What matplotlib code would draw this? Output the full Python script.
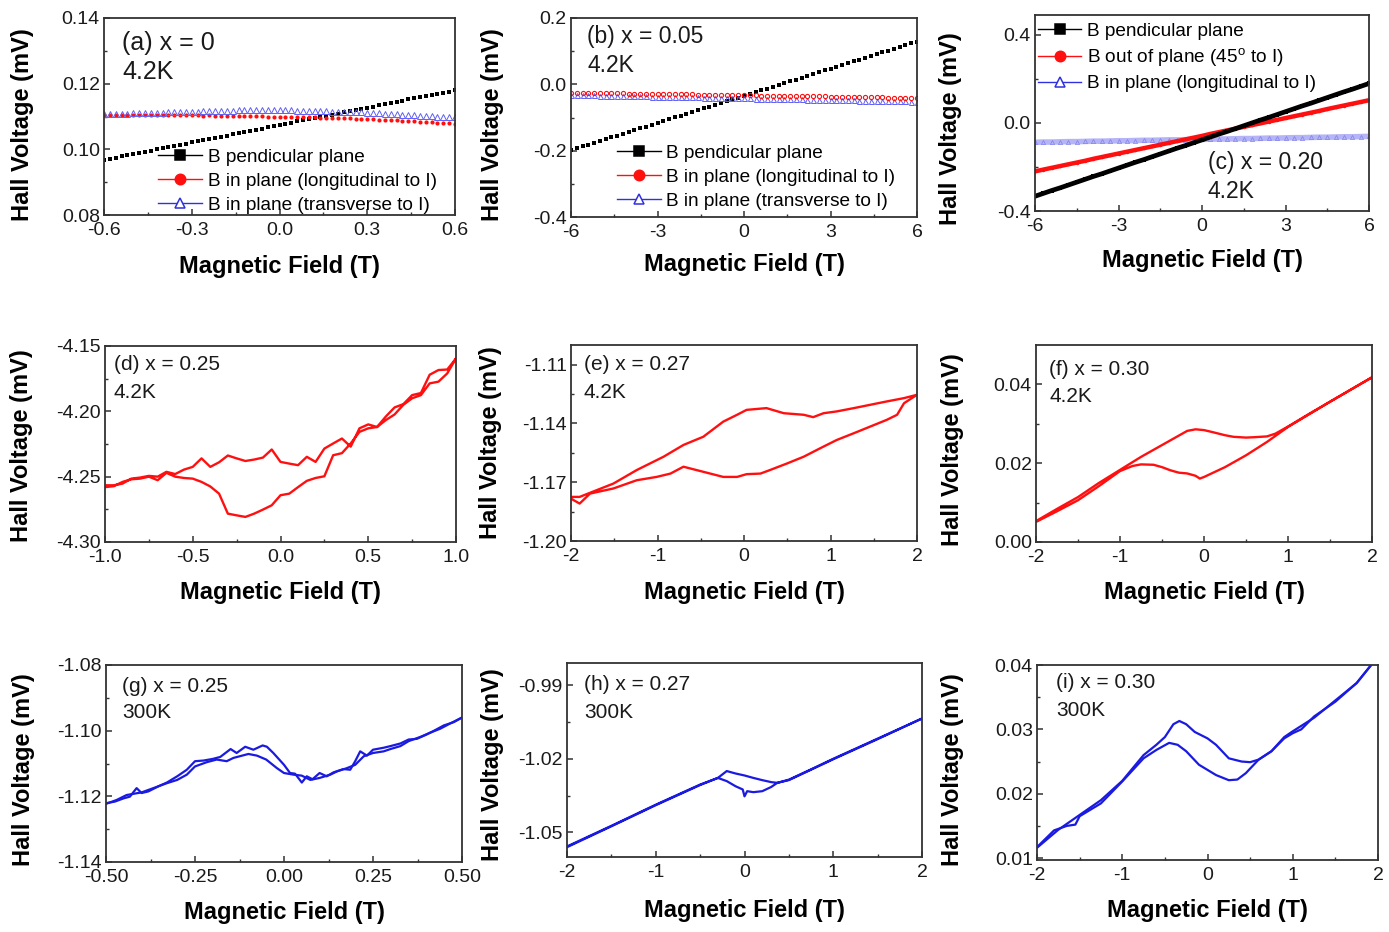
import numpy as np
import matplotlib
matplotlib.use("Agg")
import matplotlib.pyplot as plt
from matplotlib.lines import Line2D
from matplotlib.ticker import FixedLocator, FormatStrFormatter

plt.rcParams['font.family'] = ['Liberation Sans', 'DejaVu Sans']
plt.rcParams['mathtext.fontset'] = 'custom'
plt.rcParams['mathtext.rm'] = 'Liberation Sans'
plt.rcParams['axes.unicode_minus'] = False

# ------------------------------------------------------------------ data
# (a) x = 0, 4.2 K
field_a = np.linspace(-0.6, 0.6, 61)
a_perp = [0.0968, 0.0972, 0.0975, 0.0979, 0.0982, 0.0986, 0.0989, 0.0993, 0.0996, 0.1000,
          0.1003, 0.1007, 0.1010, 0.1014, 0.1017, 0.1021, 0.1024, 0.1028, 0.1032, 0.1035,
          0.1039, 0.1042, 0.1046, 0.1049, 0.1053, 0.1056, 0.1060, 0.1063, 0.1067, 0.1070,
          0.1074, 0.1077, 0.1081, 0.1085, 0.1088, 0.1092, 0.1095, 0.1099, 0.1102, 0.1106,
          0.1109, 0.1113, 0.1116, 0.1120, 0.1123, 0.1127, 0.1130, 0.1134, 0.1137, 0.1141,
          0.1145, 0.1148, 0.1152, 0.1155, 0.1159, 0.1162, 0.1166, 0.1169, 0.1173, 0.1176,
          0.1180]
a_long = [0.1105, 0.1105, 0.1106, 0.1105, 0.1105, 0.1106, 0.1105, 0.1105, 0.1105, 0.1104,
          0.1105, 0.1105, 0.1104, 0.1104, 0.1104, 0.1104, 0.1104, 0.1103, 0.1104, 0.1103,
          0.1103, 0.1103, 0.1102, 0.1102, 0.1102, 0.1101, 0.1101, 0.1101, 0.1100, 0.1100,
          0.1100, 0.1099, 0.1099, 0.1098, 0.1098, 0.1097, 0.1097, 0.1096, 0.1096, 0.1095,
          0.1095, 0.1094, 0.1094, 0.1093, 0.1093, 0.1092, 0.1091, 0.1090, 0.1090, 0.1089,
          0.1088, 0.1087, 0.1086, 0.1085, 0.1084, 0.1083, 0.1082, 0.1081, 0.1080, 0.1079,
          0.1078]
a_trans = [0.1107, 0.1108, 0.1108, 0.1109, 0.1109, 0.1110, 0.1110, 0.1111, 0.1111, 0.1112,
           0.1112, 0.1113, 0.1113, 0.1114, 0.1114, 0.1115, 0.1115, 0.1116, 0.1116, 0.1117,
           0.1117, 0.1118, 0.1118, 0.1119, 0.1119, 0.1119, 0.1120, 0.1120, 0.1120, 0.1120,
           0.1119, 0.1119, 0.1119, 0.1118, 0.1118, 0.1117, 0.1117, 0.1116, 0.1116, 0.1115,
           0.1115, 0.1114, 0.1114, 0.1113, 0.1113, 0.1112, 0.1111, 0.1110, 0.1109, 0.1108,
           0.1107, 0.1106, 0.1105, 0.1104, 0.1103, 0.1102, 0.1101, 0.1100, 0.1099, 0.1098,
           0.1098]

# (b) x = 0.05, 4.2 K
field_b = np.linspace(-6, 6, 61)
b_perp = [-0.1980, -0.1926, -0.1871, -0.1817, -0.1762, -0.1708, -0.1653, -0.1599, -0.1544, -0.1490,
          -0.1435, -0.1381, -0.1326, -0.1272, -0.1217, -0.1163, -0.1108, -0.1054, -0.0999, -0.0945,
          -0.0890, -0.0836, -0.0781, -0.0727, -0.0672, -0.0618, -0.0563, -0.0509, -0.0454, -0.0400,
          -0.0345, -0.0291, -0.0236, -0.0182, -0.0127, -0.0073, -0.0018, 0.0036, 0.0091, 0.0145,
          0.0200, 0.0254, 0.0309, 0.0363, 0.0418, 0.0472, 0.0527, 0.0581, 0.0636, 0.0690,
          0.0745, 0.0799, 0.0854, 0.0908, 0.0963, 0.1017, 0.1072, 0.1126, 0.1181, 0.1235,
          0.1290]
b_long = [-0.025, -0.025, -0.026, -0.026, -0.026, -0.026, -0.027, -0.027, -0.027, -0.027,
          -0.028, -0.028, -0.028, -0.028, -0.029, -0.029, -0.029, -0.029, -0.030, -0.030,
          -0.030, -0.030, -0.031, -0.031, -0.031, -0.031, -0.032, -0.032, -0.032, -0.032,
          -0.033, -0.033, -0.033, -0.034, -0.034, -0.034, -0.034, -0.035, -0.035, -0.035,
          -0.035, -0.036, -0.036, -0.036, -0.036, -0.037, -0.037, -0.037, -0.038, -0.038,
          -0.038, -0.038, -0.039, -0.039, -0.039, -0.040, -0.040, -0.040, -0.041, -0.041,
          -0.042]
b_trans = [-0.032, -0.032, -0.033, -0.033, -0.033, -0.034, -0.034, -0.034, -0.035, -0.035,
           -0.035, -0.036, -0.036, -0.036, -0.037, -0.037, -0.037, -0.038, -0.038, -0.038,
           -0.039, -0.039, -0.039, -0.040, -0.040, -0.040, -0.041, -0.041, -0.041, -0.042,
           -0.042, -0.042, -0.043, -0.043, -0.043, -0.044, -0.044, -0.044, -0.045, -0.045,
           -0.045, -0.046, -0.046, -0.046, -0.047, -0.047, -0.047, -0.048, -0.048, -0.048,
           -0.049, -0.049, -0.049, -0.050, -0.050, -0.050, -0.051, -0.051, -0.051, -0.052,
           -0.052]

# (c) x = 0.20, 4.2 K
field_c = np.linspace(-6, 6, 41)
c_perp = [-0.333, -0.320, -0.307, -0.295, -0.282, -0.269, -0.256, -0.243, -0.231, -0.218,
          -0.205, -0.192, -0.179, -0.167, -0.154, -0.141, -0.128, -0.115, -0.103, -0.090,
          -0.077, -0.064, -0.051, -0.039, -0.026, -0.013, 0.000, 0.013, 0.025, 0.038,
          0.051, 0.064, 0.077, 0.089, 0.102, 0.115, 0.128, 0.141, 0.153, 0.166,
          0.179]
c_45deg = [-0.220, -0.212, -0.204, -0.196, -0.188, -0.180, -0.172, -0.163, -0.155, -0.147,
           -0.139, -0.131, -0.123, -0.115, -0.107, -0.099, -0.091, -0.083, -0.075, -0.067,
           -0.059, -0.050, -0.042, -0.034, -0.026, -0.018, -0.010, -0.002, 0.006, 0.014,
           0.022, 0.030, 0.038, 0.046, 0.054, 0.063, 0.071, 0.079, 0.087, 0.095,
           0.103]
c_long = [-0.088, -0.087, -0.087, -0.086, -0.085, -0.085, -0.084, -0.083, -0.083, -0.082,
          -0.081, -0.081, -0.080, -0.079, -0.079, -0.078, -0.077, -0.077, -0.076, -0.075,
          -0.075, -0.074, -0.073, -0.073, -0.072, -0.071, -0.071, -0.070, -0.069, -0.069,
          -0.068, -0.067, -0.067, -0.066, -0.065, -0.065, -0.064, -0.063, -0.063, -0.062,
          -0.061]

# (d) x = 0.25, 4.2 K : up sweep then down sweep
d_field_up = np.round(np.arange(-1.0, 1.0001, 0.05), 2)
d_volt_up = [-4.2580, -4.2573, -4.2540, -4.2520, -4.2515, -4.2500, -4.2527, -4.2471, -4.2500, -4.2510,
             -4.2515, -4.2540, -4.2575, -4.2630, -4.2783, -4.2796, -4.2808, -4.2783, -4.2752, -4.2719,
             -4.2642, -4.2630, -4.2580, -4.2532, -4.2510, -4.2497, -4.2336, -4.2320, -4.2246, -4.2157,
             -4.2130, -4.2120, -4.2067, -4.2024, -4.1950, -4.1900, -4.1876, -4.1786, -4.1773, -4.1710,
             -4.1595]
d_field_down = d_field_up[::-1][1:]
d_volt_down = [-4.1680, -4.1684, -4.1720, -4.1860, -4.1876, -4.1945, -4.1970, -4.2040, -4.2120, -4.2100,
               -4.2130, -4.2270, -4.2208, -4.2246, -4.2285, -4.2387, -4.2348, -4.2412, -4.2400, -4.2387,
               -4.2292, -4.2354, -4.2369, -4.2380, -4.2360, -4.2338, -4.2390, -4.2425, -4.2360, -4.2425,
               -4.2446, -4.2480, -4.2463, -4.2500, -4.2494, -4.2507, -4.2515, -4.2553, -4.2566, -4.2566]

# (e) x = 0.27, 4.2 K
e_field_up = [-2.0, -1.9, -1.78, -1.51, -1.24, -1.01, -0.85, -0.70, -0.47, -0.24, -0.08, 0.03,
              0.19, 0.30, 0.50, 0.69, 0.88, 1.07, 1.27, 1.46, 1.65, 1.77, 1.85, 2.0]
e_volt_up = [-1.1784, -1.1809, -1.1758, -1.1732, -1.1690, -1.1673, -1.1656, -1.1621, -1.1647,
             -1.1673, -1.1673, -1.1659, -1.1656, -1.1638, -1.1604, -1.1570, -1.1527, -1.1485,
             -1.1450, -1.1416, -1.1382, -1.1356, -1.1297, -1.1254]
e_field_down = [2.0, 1.85, 1.65, 1.46, 1.27, 1.07, 0.92, 0.80, 0.69, 0.46, 0.26, 0.03, -0.08,
                -0.24, -0.47, -0.70, -0.93, -1.24, -1.51, -1.9, -2.0]
e_volt_down = [-1.1254, -1.1271, -1.1288, -1.1305, -1.1322, -1.1339, -1.1348, -1.1368, -1.1356,
               -1.1348, -1.1322, -1.1331, -1.1356, -1.1391, -1.1468, -1.1510, -1.1570, -1.1638,
               -1.1707, -1.1775, -1.1775]

# (f) x = 0.30, 4.2 K
f_field_up = [-2.0, -1.75, -1.5, -1.25, -1.0, -0.85, -0.75, -0.6, -0.5, -0.4, -0.3, -0.2, -0.1,
              -0.05, 0.0, 0.1, 0.25, 0.5, 0.75, 1.0, 1.25, 1.5, 1.75, 2.0]
f_volt_up = [0.0051, 0.0078, 0.0106, 0.0142, 0.0180, 0.0193, 0.0197, 0.0196, 0.0190, 0.0182,
             0.0176, 0.0174, 0.0168, 0.0161, 0.0165, 0.0175, 0.0190, 0.0220, 0.0254, 0.0292,
             0.0324, 0.0356, 0.0387, 0.0418]
f_field_down = [2.0, 1.75, 1.5, 1.25, 1.0, 0.85, 0.75, 0.6, 0.5, 0.35, 0.25, 0.1, 0.0, -0.1,
                -0.2, -0.3, -0.5, -0.75, -1.0, -1.25, -1.5, -1.75, -2.0]
f_volt_down = [0.0418, 0.0387, 0.0356, 0.0325, 0.0293, 0.0275, 0.0268, 0.0266, 0.0265, 0.0267,
               0.0271, 0.0279, 0.0284, 0.0286, 0.0282, 0.0270, 0.0246, 0.0216, 0.0183, 0.0150,
               0.0114, 0.0084, 0.0053]

# (g) x = 0.25, 300 K
g_field_1 = [-0.500, -0.475, -0.450, -0.433, -0.414, -0.400, -0.381, -0.350, -0.329, -0.300,
             -0.273, -0.250, -0.226, -0.200, -0.179, -0.150, -0.133, -0.109, -0.086, -0.060,
             -0.048, -0.030, 0.000, 0.017, 0.031, 0.050, 0.064, 0.080, 0.100, 0.120,
             0.139, 0.167, 0.186, 0.200, 0.214, 0.233, 0.250, 0.280, 0.299, 0.327,
             0.350, 0.373, 0.400, 0.420, 0.449, 0.477, 0.500]
g_volt_1 = [-1.1221, -1.1216, -1.1206, -1.1201, -1.1175, -1.1190, -1.1185, -1.1168, -1.1158, -1.1139,
            -1.1119, -1.1093, -1.1091, -1.1086, -1.1080, -1.1056, -1.1068, -1.1049, -1.1058, -1.1045,
            -1.1049, -1.1068, -1.1104, -1.1129, -1.1131, -1.1158, -1.1139, -1.1148, -1.1129, -1.1139,
            -1.1127, -1.1117, -1.1119, -1.1093, -1.1063, -1.1076, -1.1058, -1.1052, -1.1047, -1.1039,
            -1.1027, -1.1025, -1.1012, -1.1001, -1.0984, -1.0974, -1.0960]
g_field_2 = [-0.500, -0.470, -0.442, -0.400, -0.367, -0.329, -0.300, -0.273, -0.250, -0.217,
             -0.189, -0.161, -0.142, -0.100, -0.076, -0.050, -0.020, 0.000, 0.027, 0.050,
             0.074, 0.100, 0.130, 0.149, 0.177, 0.200, 0.224, 0.250, 0.280, 0.299,
             0.327, 0.350, 0.383, 0.411, 0.439, 0.467, 0.500]
g_volt_2 = [-1.1223, -1.1211, -1.1196, -1.1188, -1.1175, -1.1160, -1.1150, -1.1134, -1.1109, -1.1096,
            -1.1088, -1.1093, -1.1083, -1.1071, -1.1076, -1.1088, -1.1114, -1.1129, -1.1134, -1.1137,
            -1.1150, -1.1144, -1.1134, -1.1124, -1.1114, -1.1104, -1.1078, -1.1068, -1.1063, -1.1056,
            -1.1047, -1.1032, -1.1019, -1.1006, -1.0994, -1.0978, -1.0960]

# (h) x = 0.27, 300 K
h_field_up = [-2.0, -1.75, -1.5, -1.25, -1.0, -0.75, -0.5, -0.3, -0.2, -0.1, -0.02, 0.0, 0.03,
              0.1, 0.2, 0.3, 0.37, 0.5, 0.75, 1.0, 1.25, 1.5, 1.75, 2.0]
h_volt_up = [-1.0557, -1.0515, -1.0473, -1.0430, -1.0387, -1.0346, -1.0305, -1.0278, -1.0291,
             -1.0312, -1.0325, -1.0353, -1.0332, -1.0336, -1.0332, -1.0315, -1.0298, -1.0285,
             -1.0243, -1.0200, -1.0159, -1.0118, -1.0077, -1.0036]
h_field_down = [2.0, 1.5, 1.0, 0.5, 0.37, 0.3, 0.2, 0.1, 0.0, -0.1, -0.2, -0.3, -0.5, -1.0, -1.5, -2.0]
h_volt_down = [-1.0036, -1.0120, -1.0202, -1.0287, -1.0298, -1.0295, -1.0287, -1.0278, -1.0268,
               -1.0260, -1.0250, -1.0278, -1.0307, -1.0389, -1.0475, -1.0560]

# (i) x = 0.30, 300 K
i_field_1 = [-2.0, -1.75, -1.5, -1.25, -1.0, -0.75, -0.6, -0.5, -0.4, -0.33, -0.25, -0.15, 0.0,
             0.1, 0.25, 0.4, 0.5, 0.6, 0.75, 0.9, 1.0, 1.25, 1.5, 1.75, 1.92]
i_volt_1 = [0.0116, 0.0144, 0.0167, 0.0190, 0.0220, 0.0260, 0.0276, 0.0288, 0.0308, 0.0313,
            0.0308, 0.0296, 0.0286, 0.0276, 0.0255, 0.0250, 0.0249, 0.0253, 0.0266, 0.0288,
            0.0297, 0.0318, 0.0345, 0.0372, 0.0400]
i_field_2 = [-2.0, -1.8, -1.65, -1.55, -1.5, -1.25, -1.0, -0.75, -0.6, -0.45, -0.35, -0.25, -0.1,
             0.0, 0.1, 0.25, 0.35, 0.45, 0.6, 0.75, 0.9, 1.0, 1.1, 1.25, 1.5, 1.75, 1.92]
i_volt_2 = [0.0117, 0.0143, 0.0150, 0.0152, 0.0165, 0.0185, 0.0219, 0.0255, 0.0268, 0.0279,
            0.0276, 0.0266, 0.0245, 0.0237, 0.0229, 0.0221, 0.0222, 0.0232, 0.0253, 0.0266,
            0.0286, 0.0294, 0.0300, 0.0320, 0.0343, 0.0372, 0.0400]

# legend entries
labels_ab = ['B pendicular plane', 'B in plane (longitudinal to I)', 'B in plane (transverse to I)']
labels_c = ['B pendicular plane', r'B out of plane (45$^{\mathrm{o}}$ to I)', 'B in plane (longitudinal to I)']

# tick values
ticks_x_a = [-0.6, -0.3, 0.0, 0.3, 0.6]
ticks_x_6 = [-6, -3, 0, 3, 6]
ticks_x_d = [-1.0, -0.5, 0.0, 0.5, 1.0]
ticks_x_2 = [-2, -1, 0, 1, 2]
ticks_x_g = [-0.50, -0.25, 0.00, 0.25, 0.50]
ticks_y_a = [0.08, 0.10, 0.12, 0.14]
ticks_y_b = [-0.4, -0.2, 0.0, 0.2]
ticks_y_c = [-0.4, 0.0, 0.4]
ticks_y_d = [-4.30, -4.25, -4.20, -4.15]
ticks_y_e = [-1.20, -1.17, -1.14, -1.11]
ticks_y_f = [0.00, 0.02, 0.04]
ticks_y_g = [-1.14, -1.12, -1.10, -1.08]
ticks_y_h = [-1.05, -1.02, -0.99]
ticks_y_i = [0.01, 0.02, 0.03, 0.04]

# ------------------------------------------------------------------ figure
W, H = 1389, 932
fig = plt.figure(figsize=(W / 100, H / 100), dpi=100)

RED = '#ff1010'
BLUE = '#1a1ae0'
FRAME = '#333333'


def make_axes(box):
    l, t, r, b = box
    ax = fig.add_axes([l / W, 1 - b / H, (r - l) / W, (b - t) / H])
    for s in ax.spines.values():
        s.set_color(FRAME)
        s.set_linewidth(1.3)
    return ax


def style(ax, box, xlim, ylim, xt, xm, yt, ym, xf, yf, xl_y, yl_x, yl_y):
    l, t, r, b = box
    ax.set_xlim(*xlim)
    ax.set_ylim(*ylim)
    ax.xaxis.set_major_locator(FixedLocator(xt))
    ax.xaxis.set_minor_locator(FixedLocator(xm))
    ax.yaxis.set_major_locator(FixedLocator(yt))
    ax.yaxis.set_minor_locator(FixedLocator(ym))
    ax.xaxis.set_major_formatter(FormatStrFormatter(xf))
    ax.yaxis.set_major_formatter(FormatStrFormatter(yf))
    ax.tick_params(which='both', direction='in', top=False, right=False,
                   colors=FRAME, labelcolor='#1a1a1a', labelsize=14)
    ax.tick_params(which='major', length=4.5, width=1.1)
    ax.tick_params(which='minor', length=2.5, width=1.0)
    ax.tick_params(axis='x', pad=5)
    ax.tick_params(axis='y', pad=3)
    ax.set_xlabel('Magnetic Field (T)', fontsize=17, fontweight='bold', va='center')
    ax.set_ylabel('Hall Voltage (mV)', fontsize=17, fontweight='bold', va='center')
    ax.xaxis.set_label_coords(0.5, (b - xl_y) / (b - t))
    ax.yaxis.set_label_coords((yl_x - l) / (r - l), (b - yl_y) / (b - t))


def note(px, py, s, size):
    fig.text(px / W, 1 - py / H, s, fontsize=size, va='center', ha='left', color='#1a1a1a')


def handles(markers):
    out = []
    for color, mk, face in markers:
        out.append(Line2D([], [], color=color, lw=1.0, marker=mk, ms=7.5,
                          markerfacecolor=face, markeredgecolor=color, markeredgewidth=1.1))
    return out


box = {
    'a': (104, 18, 455, 215), 'b': (571, 18, 917, 217), 'c': (1035, 15, 1369, 211),
    'd': (105, 346, 456, 542), 'e': (571, 345, 917, 541), 'f': (1036, 345, 1372, 542),
    'g': (106, 665, 462, 862), 'h': (567, 663, 922, 857), 'i': (1037, 665, 1378, 860),
}

legend_marks = [('black', 's', 'black'), (RED, 'o', RED), ('#3030e0', '^', 'white')]

# ---------------- (a)
ax = make_axes(box['a'])
ax.plot(field_a, a_perp, ls='none', marker='s', ms=3.3, color='black', mew=0)
ax.plot(field_a, a_long, ls='none', marker='o', ms=3.0, color=RED, mew=0)
ax.plot(field_a, a_trans, ls='none', marker='^', ms=4.0, mfc='none', mec='#6060f5', mew=0.7)
style(ax, box['a'], (-0.6, 0.6), (0.08, 0.14), ticks_x_a, [-0.45, -0.15, 0.15, 0.45],
      ticks_y_a, [0.09, 0.11, 0.13], '%.1f', '%.2f', 266, 22, 125)
ax.legend(handles(legend_marks), labels_ab, loc='lower left', bbox_to_anchor=(0.154, 0.005),
          frameon=False, fontsize=13.7, handlelength=2.3, handletextpad=0.3, labelspacing=0.36,
          borderpad=0, borderaxespad=0)
note(122, 43, '(a) x = 0', 18)
note(122, 72, '4.2K', 18)

# ---------------- (b)
ax = make_axes(box['b'])
ax.plot(field_b, b_perp, ls='none', marker='s', ms=3.4, color='black', mew=0)
ax.plot(field_b, b_trans, ls='none', marker='^', ms=3.6, mfc='none', mec='#6060f5', mew=0.7)
ax.plot(field_b, b_long, ls='none', marker='o', ms=3.0, mfc='none', mec=RED, mew=0.8)
style(ax, box['b'], (-6, 6), (-0.4, 0.2), ticks_x_6, [-4.5, -1.5, 1.5, 4.5],
      ticks_y_b, [-0.3, -0.1, 0.1], '%d', '%.1f', 265, 492, 125)
ax.legend(handles(legend_marks), labels_ab, loc='lower left', bbox_to_anchor=(0.133, 0.035),
          frameon=False, fontsize=13.7, handlelength=2.3, handletextpad=0.3, labelspacing=0.36,
          borderpad=0, borderaxespad=0)
note(587, 37, '(b) x = 0.05', 16.5)
note(587, 65, '4.2K', 16.5)

# ---------------- (c)
ax = make_axes(box['c'])
ax.plot(field_c, c_long, lw=4.0, color='#b4b4f6', marker='^', ms=3.0, mfc='none',
        mec='#8080ee', mew=0.5)
ax.plot(field_c, c_45deg, lw=3.2, color=RED, marker='o', ms=2.5, mew=0)
ax.plot(field_c, c_perp, lw=3.4, color='black', marker='s', ms=2.5, mew=0)
style(ax, box['c'], (-6, 6), (-0.4, 0.49), ticks_x_6, [-4.5, -1.5, 1.5, 4.5],
      ticks_y_c, [-0.2, 0.2], '%d', '%.1f', 261, 950, 129)
ax.legend(handles(legend_marks), labels_c, loc='upper left', bbox_to_anchor=(0.008, 0.96),
          frameon=False, fontsize=13.7, handlelength=2.3, handletextpad=0.3, labelspacing=0.32,
          borderpad=0, borderaxespad=0)
note(1208, 163, '(c) x = 0.20', 16.5)
note(1208, 192, '4.2K', 16.5)

# ---------------- (d)
ax = make_axes(box['d'])
ax.plot(np.concatenate([d_field_up, d_field_down]), d_volt_up + d_volt_down, color=RED, lw=1.7)
style(ax, box['d'], (-1, 1), (-4.30, -4.15), ticks_x_d, [-0.75, -0.25, 0.25, 0.75],
      ticks_y_d, [-4.275, -4.225, -4.175], '%.1f', '%.2f', 592, 22, 446)
note(114, 365, '(d) x = 0.25', 15)
note(114, 393, '4.2K', 15)

# ---------------- (e)
ax = make_axes(box['e'])
ax.plot(e_field_up + e_field_down, e_volt_up + e_volt_down, color=RED, lw=1.7)
style(ax, box['e'], (-2, 2), (-1.20, -1.10), ticks_x_2, [-1.5, -0.5, 0.5, 1.5],
      ticks_y_e, [-1.185, -1.155, -1.125], '%d', '%.2f', 592, 491, 443)
note(584, 365, '(e) x = 0.27', 15)
note(584, 393, '4.2K', 15)

# ---------------- (f)
ax = make_axes(box['f'])
ax.plot(f_field_up + f_field_down, f_volt_up + f_volt_down, color=RED, lw=1.7)
style(ax, box['f'], (-2, 2), (0.0, 0.05), ticks_x_2, [-1.5, -0.5, 0.5, 1.5],
      ticks_y_f, [0.01, 0.03], '%d', '%.2f', 592, 952, 450)
note(1049, 369, '(f) x = 0.30', 15)
note(1049, 397, '4.2K', 15)

# ---------------- (g)
ax = make_axes(box['g'])
ax.plot(g_field_1, g_volt_1, color=BLUE, lw=1.6)
ax.plot(g_field_2, g_volt_2, color=BLUE, lw=1.6)
style(ax, box['g'], (-0.5, 0.5), (-1.14, -1.08), ticks_x_g, [-0.375, -0.125, 0.125, 0.375],
      ticks_y_g, [-1.13, -1.11, -1.09], '%.2f', '%.2f', 912, 23, 770)
note(122, 687, '(g) x = 0.25', 15)
note(122, 712, '300K', 15)

# ---------------- (h)
ax = make_axes(box['h'])
ax.plot(h_field_up + h_field_down, h_volt_up + h_volt_down, color=BLUE, lw=1.6)
style(ax, box['h'], (-2, 2), (-1.06, -0.981), ticks_x_2, [-1.5, -0.5, 0.5, 1.5],
      ticks_y_h, [-1.035, -1.005], '%d', '%.2f', 910, 492, 765)
note(584, 685, '(h) x = 0.27', 15)
note(584, 713, '300K', 15)

# ---------------- (i)
ax = make_axes(box['i'])
ax.plot(i_field_1, i_volt_1, color=BLUE, lw=1.6)
ax.plot(i_field_2, i_volt_2, color=BLUE, lw=1.6)
style(ax, box['i'], (-2, 2), (0.0097, 0.04), ticks_x_2, [-1.5, -0.5, 0.5, 1.5],
      ticks_y_i, [0.015, 0.025, 0.035], '%d', '%.2f', 911, 953, 770)
note(1056, 683, '(i) x = 0.30', 15)
note(1056, 710, '300K', 15)

fig.savefig('out.png', dpi=100)
